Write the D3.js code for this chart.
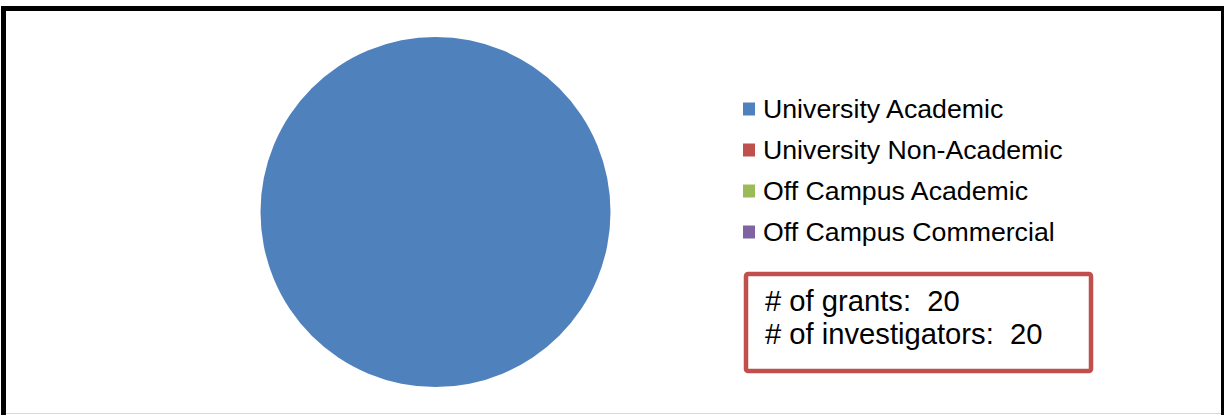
<!DOCTYPE html>
<html>
<head>
<meta charset="utf-8">
<script src="https://cdn.jsdelivr.net/npm/d3@7/dist/d3.min.js"></script>
<style>
  html, body { margin: 0; padding: 0; background: #fff; }
  svg { display: block; }
  text { font-family: "Liberation Sans", Arial, sans-serif; }
</style>
</head>
<body>
<svg id="chart" width="1225" height="415"></svg>
<script>
// Grants by institution type
const categories = ["University Academic", "University Non-Academic", "Off Campus Academic", "Off Campus Commercial"];
const grantCounts = [20, 0, 0, 0];
const colors = ["#4F81BD", "#C0504D", "#9BBB59", "#8064A2"];
const summaryLabels = ["# of grants:", "# of investigators:"];
const summaryValues = [20, 20];

const svg = d3.select("#chart");

// Frame around the chart area
const frame = svg.append("g");
frame.append("line").attr("x1", 1).attr("x2", 1224).attr("y1", 8.5).attr("y2", 8.5)
  .attr("stroke", "#000").attr("stroke-width", 5);
frame.append("line").attr("x1", 3.5).attr("x2", 3.5).attr("y1", 6).attr("y2", 415)
  .attr("stroke", "#000").attr("stroke-width", 5);
frame.append("line").attr("x1", 1222.5).attr("x2", 1222.5).attr("y1", 6).attr("y2", 415)
  .attr("stroke", "#000").attr("stroke-width", 3);
frame.append("line").attr("x1", 6).attr("x2", 1221).attr("y1", 413.5).attr("y2", 413.5)
  .attr("stroke", "#d9d9d9").attr("stroke-width", 1);

// Pie
const cx = 435.5, cy = 212, radius = 175;
const pie = d3.pie().sort(null).value(d => d.value);
const arc = d3.arc().innerRadius(0).outerRadius(radius);
const slices = pie(categories.map((c, i) => ({ name: c, value: grantCounts[i], color: colors[i] })));

svg.append("g")
  .attr("transform", `translate(${cx},${cy})`)
  .selectAll("path")
  .data(slices.filter(d => d.data.value > 0))
  .join("path")
  .attr("d", arc)
  .attr("fill", d => d.data.color);

// Legend
const legendY = d3.scalePoint().domain(categories).range([109, 232]);
const legend = svg.append("g");
const rows = legend.selectAll("g").data(categories).join("g")
  .attr("transform", d => `translate(743,${legendY(d)})`);
rows.append("rect")
  .attr("x", 0).attr("y", -6.5).attr("width", 12).attr("height", 13)
  .attr("fill", (d, i) => colors[i]);
rows.append("text")
  .attr("x", 20).attr("y", 8.5)
  .attr("font-size", 26.7)
  .attr("fill", "#000")
  .text(d => d);

// Summary box
const box = svg.append("g");
box.append("rect")
  .attr("x", 746).attr("y", 274).attr("width", 345).attr("height", 97)
  .attr("rx", 2)
  .attr("fill", "#fff").attr("stroke", "#C0504D").attr("stroke-width", 4.5);
box.selectAll("text").data(summaryLabels).join("text")
  .attr("x", 765)
  .attr("y", (d, i) => 311 + i * 33)
  .attr("font-size", 29.2)
  .attr("fill", "#000")
  .attr("xml:space", "preserve")
  .style("white-space", "pre")
  .text((d, i) => `${d}  ${summaryValues[i]}`);
</script>
</body>
</html>
